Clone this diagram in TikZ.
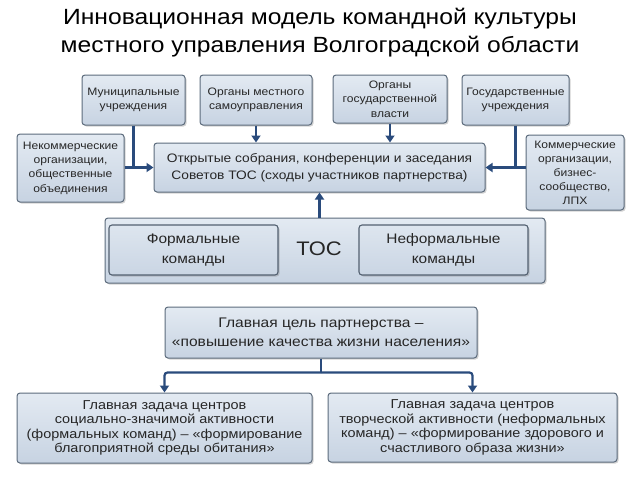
\documentclass[tikz,border=0pt]{standalone}
\usepackage{fontspec}
\setmainfont{Liberation Sans}[FakeStretch=1.12]
\usetikzlibrary{arrows.meta,shadows,calc}
\definecolor{boxtop}{HTML}{E3EAF2}
\definecolor{boxbot}{HTML}{C7D3E2}
\definecolor{boxline}{HTML}{5C6B7C}
\definecolor{arrcol}{HTML}{2A4B7C}
\definecolor{txt}{HTML}{262626}
\tikzset{
  bx/.style={draw=boxline, line width=1pt, rounded corners=3pt, top color=boxtop, bottom color=boxbot,
    drop shadow={shadow xshift=1.5pt, shadow yshift=-1.5pt, opacity=0.35},
    align=center, inner sep=2pt, text=txt, font=\fontsize{10.8}{14.3}\selectfont},
  inbx/.style={bx, draw=boxline!90!black, line width=1.1pt, drop shadow={opacity=0}, top color=boxtop!80!boxbot, bottom color=boxbot!90!boxtop},
  lnk/.style={draw=arrcol, line width=2.2pt},
  arr/.style={lnk, -{Triangle[length=7pt,width=9pt]}},
}
\begin{document}
\begin{tikzpicture}[x=1pt,y=-1pt]
\useasboundingbox (0,0) rectangle (640,480);
\node[text=black, align=center, font=\fontsize{22}{28}\selectfont] (title) at (320,33)
  {Инновационная модель командной культуры\\местного управления Волгоградской области};
\node[bx, minimum width=103pt, minimum height=50pt] (mun) at (133.5,100) {Муниципальные\\учреждения};
\node[bx, minimum width=112pt, minimum height=50pt] (mest) at (256,100) {Органы местного\\самоуправления};
\node[bx, minimum width=114pt, minimum height=48pt] (gosv) at (390,99) {Органы\\государственной\\власти};
\node[bx, minimum width=107pt, minimum height=50pt] (gosu) at (515.5,100) {Государственные\\учреждения};
\node[bx, minimum width=107pt, minimum height=68pt] (nek) at (70.5,168) {Некоммерческие\\организации,\\общественные\\объединения};
\node[bx, minimum width=331pt, minimum height=49pt, font=\fontsize{12.3}{17}\selectfont] (otk) at (319.5,167.5)
  {Открытые собрания, конференции и заседания\\Советов ТОС (сходы участников партнерства)};
\node[bx, minimum width=98pt, minimum height=75pt, font=\fontsize{10.8}{14}\selectfont] (kom) at (575,172.5) {Коммерческие\\организации,\\бизнес-\\сообщество,\\ЛПХ};
\node[bx, minimum width=440pt, minimum height=65pt] (toc) at (325,250.5) {};
\node[inbx, minimum width=169pt, minimum height=50pt, font=\fontsize{13.8}{20}\selectfont] (form) at (193.5,250) {Формальные\\команды};
\node[inbx, minimum width=169pt, minimum height=50pt, font=\fontsize{13.8}{20}\selectfont] (neform) at (443.5,250) {Неформальные\\команды};
\node[text=txt, font=\fontsize{19.6}{24}\selectfont] (toclbl) at (319,249) {ТОС};
\node[bx, minimum width=312pt, minimum height=51pt, font=\fontsize{13.9}{19}\selectfont] (goal) at (321,332.5)
  {Главная цель партнерства –\\«повышение качества жизни населения»};
\node[bx, minimum width=295pt, minimum height=70pt, font=\fontsize{12.9}{14.5}\selectfont] (bl) at (164.5,428)
  {Главная задача центров\\социально-значимой активности\\(формальных команд) – «формирование\\благоприятной среды обитания»};
\node[bx, minimum width=289pt, minimum height=69pt, font=\fontsize{12.9}{14.5}\selectfont] (br) at (472.5,427.5)
  {Главная задача центров\\творческой активности (неформальных\\команд) – «формирование здорового и\\счастливого образа жизни»};
% connectors
\draw[lnk] (mun.south) -- (mun.south |- otk.west);
\draw[arr] (otk.west -| nek.east) -- (otk.west);
\draw[lnk] (gosu.south) -- (gosu.south |- otk.east);
\draw[arr] (otk.east -| kom.west) -- (otk.east);
\draw[arr] (mest.south) -- (mest.south |- otk.north);
\draw[arr] (gosv.south) -- (gosv.south |- otk.north);
\draw[arr] (toc.north -| otk.south) -- (otk.south);
\draw[lnk] (goal.south) -- ++(0,14) coordinate (j);
\draw[arr, rounded corners=3pt] (j) -| (bl.north);
\draw[arr, rounded corners=3pt] (j) -| (br.north);
\end{tikzpicture}
\end{document}
